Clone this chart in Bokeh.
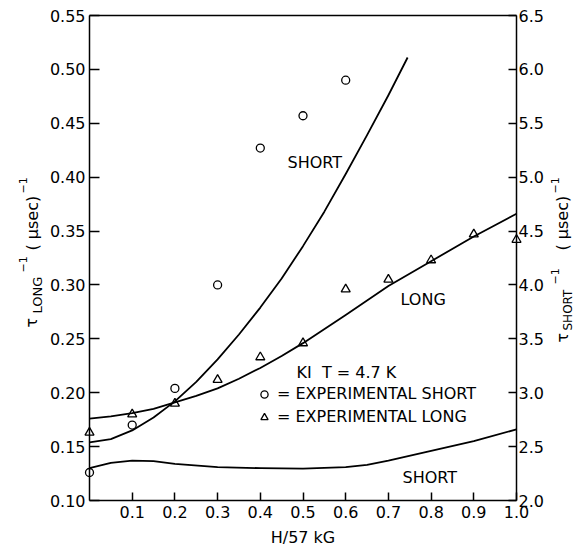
import math
from bokeh.plotting import figure
from bokeh.models import (Range1d, LinearAxis, FixedTicker, PrintfTickFormatter,
                          Label, Legend, LegendItem)
from bokeh.embed import file_html
from bokeh.resources import INLINE

# ---------------- data ----------------
# experimental short lifetimes (right axis, tau_short^-1)
short_exp_x = [0.0, 0.1, 0.2, 0.3, 0.4, 0.5, 0.6]
short_exp_y = [2.26, 2.70, 3.04, 4.00, 5.27, 5.57, 5.90]

# experimental long lifetimes (left axis, tau_long^-1)
long_exp_x = [0.0, 0.1, 0.2, 0.3, 0.4, 0.5, 0.6, 0.7, 0.8, 0.9, 1.0]
long_exp_y = [0.163, 0.180, 0.190, 0.212, 0.233, 0.246, 0.296, 0.305, 0.323, 0.347, 0.342]

# theoretical LONG curve (left axis)
long_curve_x = [0.0, 0.05, 0.1, 0.15, 0.2, 0.25, 0.3, 0.35, 0.4, 0.45, 0.5, 0.6, 0.7, 0.8, 0.9, 1.0]
long_curve_y = [0.176, 0.178, 0.181, 0.185, 0.191, 0.197, 0.204, 0.213, 0.223, 0.234, 0.246,
                0.272, 0.299, 0.322, 0.345, 0.366]

# theoretical upper SHORT curve (right axis)
short_up_x = [0.0, 0.05, 0.1, 0.15, 0.2, 0.25, 0.3, 0.35, 0.4, 0.45, 0.5, 0.55, 0.6, 0.65, 0.7, 0.745]
short_up_y = [2.54, 2.57, 2.65, 2.77, 2.92, 3.10, 3.31, 3.54, 3.79, 4.06, 4.36, 4.68, 5.03, 5.39, 5.76, 6.11]

# theoretical lower SHORT curve (right axis)
short_lo_x = [0.0, 0.05, 0.1, 0.15, 0.2, 0.3, 0.4, 0.5, 0.6, 0.65, 0.7, 0.8, 0.9, 1.0]
short_lo_y = [2.30, 2.35, 2.37, 2.365, 2.34, 2.31, 2.30, 2.295, 2.31, 2.33, 2.37, 2.46, 2.55, 2.66]

x_ticks = [0.1, 0.2, 0.3, 0.4, 0.5, 0.6, 0.7, 0.8, 0.9, 1.0]
left_ticks = [0.10, 0.15, 0.20, 0.25, 0.30, 0.35, 0.40, 0.45, 0.50, 0.55]
right_ticks = [2.0, 2.5, 3.0, 3.5, 4.0, 4.5, 5.0, 5.5, 6.0, 6.5]

# ---------------- layout ----------------
W, H = 573, 546
# pixel box of the data area inside the canvas
PL, PR, PT, PB = 89, 516, 15, 500
X0, X1 = 0.0, 1.0          # x data at PL / PR
Y0, Y1 = 0.10, 0.55        # left-axis data at PB / PT
S0, S1 = 2.0, 6.5          # right-axis data at PB / PT

def dx(px):
    return X0 + (px - PL) / (PR - PL) * (X1 - X0)

def dy(py):
    return Y1 - (py - PT) / (PB - PT) * (Y1 - Y0)

def ds(py):
    return S1 - (py - PT) / (PB - PT) * (S1 - S0)

FONT = "DejaVu Sans"

p = figure(width=W, height=H,
           x_range=Range1d(dx(0), dx(W)), y_range=Range1d(dy(H), dy(0)),
           output_backend="svg", toolbar_location=None,
           x_axis_location=None, y_axis_location=None,
           min_border=0, min_border_left=0, min_border_right=0,
           min_border_top=0, min_border_bottom=0)
p.extra_y_ranges = {"short": Range1d(ds(H), ds(0))}
p.xgrid.visible = False
p.ygrid.visible = False
p.outline_line_color = None
p.background_fill_color = "white"
p.border_fill_color = "white"

xa = LinearAxis(fixed_location=Y0, bounds=(X0, X1), ticker=FixedTicker(ticks=x_ticks),
                formatter=PrintfTickFormatter(format="%.1f"))
ya = LinearAxis(fixed_location=X0, bounds=(Y0, Y1), ticker=FixedTicker(ticks=left_ticks),
                formatter=PrintfTickFormatter(format="%.2f"))
ra = LinearAxis(y_range_name="short", fixed_location=X1, bounds=(S0, S1),
                ticker=FixedTicker(ticks=right_ticks),
                formatter=PrintfTickFormatter(format="%.1f"))
ta = LinearAxis(fixed_location=Y1, bounds=(X0, X1), ticker=FixedTicker(ticks=[]),
                major_label_text_color=None, major_tick_line_color=None)
p.add_layout(xa, "below")
p.add_layout(ya, "left")
p.add_layout(ra, "right")
p.add_layout(ta, "above")

for ax, tin, so in ((xa, 8, 5), (ya, 10, 4), (ra, 8, 2), (ta, 0, 0)):
    ax.major_tick_in = tin
    ax.major_tick_out = 0
    ax.minor_tick_line_color = None
    ax.major_tick_line_width = 1.5
    ax.axis_line_width = 1.5
    ax.axis_line_color = "black"
    ax.major_label_standoff = so
    ax.major_label_text_font = FONT
    ax.major_label_text_font_size = "16px"
    if ax is not ta:
        ax.major_label_text_color = "black"

# ---------------- glyphs ----------------
p.line(long_curve_x, long_curve_y, line_color="black", line_width=1.8, line_join="round")
p.line(short_up_x, short_up_y, y_range_name="short", line_color="black", line_width=1.8,
       line_join="round")
p.line(short_lo_x, short_lo_y, y_range_name="short", line_color="black", line_width=1.8,
       line_join="round")

circ = p.scatter(short_exp_x, short_exp_y, y_range_name="short", marker="circle", size=8,
                 fill_color=None, line_color="black", line_width=1.3)
tri = p.scatter(long_exp_x, long_exp_y, marker="triangle", size=9,
                fill_color=None, line_color="black", line_width=1.3)

legend = Legend(items=[LegendItem(label="= EXPERIMENTAL SHORT", renderers=[circ]),
                       LegendItem(label="= EXPERIMENTAL LONG", renderers=[tri])],
                location=(254, 120), glyph_width=20, glyph_height=18, label_height=18,
                label_standoff=3, spacing=4, padding=0, margin=0,
                border_line_color=None, background_fill_alpha=0,
                label_text_font=FONT, label_text_font_size="16px",
                label_text_color="black")
p.add_layout(legend)

NB = "\u00a0"

def txt(px, py, s, size="16px", angle=0.0, align="left"):
    p.add_layout(Label(x=dx(px), y=dy(py), text=s, angle=angle,
                       text_align=align, text_baseline="alphabetic",
                       text_font=FONT, text_font_size=size, text_color="black"))

# in-plot annotations
txt(287, 162, "SHORT")
txt(400, 299, "LONG")
txt(402, 477, "SHORT")
txt(296, 372, "KI" + NB + NB + "T = 4.7 K")

# x axis title
txt(302.5, 537, "H/57 kG", align="center")

# left axis title (rotated, reads upward)
up = math.pi / 2
txt(31, 327, "τ", "16px", up)
txt(37, 313, "LONG", "13px", up)
txt(22, 272, "−1", "11px", up)
txt(32, 250, "(" + NB + "μsec)", "16px", up)
txt(22, 193, "−1", "11px", up)

# right axis title (rotated, reads upward)
txt(562, 342, "τ", "16px", up)
txt(567, 330, "SHORT", "12px", up)
txt(554, 284, "−1", "11px", up)
txt(562, 250, "(" + NB + "μsec)", "16px", up)
txt(554, 193, "−1", "11px", up)

open("out.html", "w").write(file_html(p, INLINE))
